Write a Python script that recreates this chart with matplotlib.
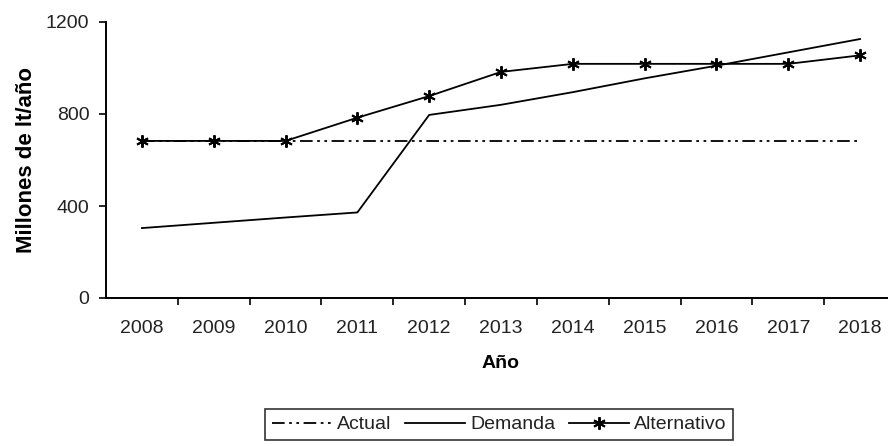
import matplotlib.pyplot as plt

plt.rcParams['font.family'] = ['Liberation Sans', 'DejaVu Sans']

years = ['2008', '2009', '2010', '2011', '2012', '2013', '2014', '2015', '2016', '2017', '2018']
actual = [683, 683, 683, 683, 683, 683, 683, 683, 683, 683, 683]
demanda = [304, 327, 350, 372, 796, 840, 895, 955, 1010, 1068, 1126]
alternativo = [683, 683, 683, 784, 878, 983, 1018, 1018, 1018, 1018, 1055]

fig = plt.figure(figsize=(8.88, 4.46), dpi=100)
ax = fig.add_axes([106 / 888, 1 - 298 / 446, 790 / 888, 276 / 446])

x = range(len(years))
ax.plot(x, actual, color='black', lw=1.3, linestyle=(0, (7, 2.5, 1.5, 2.5, 1.5, 2.5)), label='Actual')
ax.plot(x, demanda, color='black', lw=1.3, label='Demanda')
ax.plot(x, alternativo, color='black', lw=1.3, marker=(6, 2, 0), markersize=9,
        markeredgewidth=1.4, label='Alternativo')

ax.set_xlim(-0.5, len(years) - 0.5)
ax.set_ylim(0, 1200)
ax.set_yticks([0, 400, 800, 1200])
ax.set_xticks([i + 0.5 for i in range(len(years) - 1)])
ax.set_xticklabels([])
ax.set_xticks(list(x), minor=True)
ax.set_xticklabels(years, minor=True)
ax.tick_params(axis='x', which='major', direction='out', length=5, width=1.2)
ax.tick_params(axis='x', which='minor', length=0, pad=16, labelsize=14, labelcolor='#222222')
ax.tick_params(axis='y', direction='out', length=5, width=1.2, pad=7, labelsize=14,
               labelcolor='#222222')

for s in ['top', 'right']:
    ax.spines[s].set_visible(False)
for s in ['left', 'bottom']:
    ax.spines[s].set_linewidth(1.4)

ax.set_xlabel('Año', fontsize=14, fontweight='bold', labelpad=13)
ax.set_ylabel('Millones de lt/año', fontsize=16, fontweight='bold', labelpad=6)

leg = fig.legend(loc='upper center', bbox_to_anchor=(499 / 888, 1 - 409 / 446), ncol=3, fontsize=14,
                 frameon=True, fancybox=False, edgecolor='black', handlelength=3.1,
                 handletextpad=0.25, columnspacing=0.7, borderpad=0.35, borderaxespad=0)
leg.get_frame().set_linewidth(1.2)
for t in leg.get_texts():
    t.set_color('#222222')

fig.savefig('out.png', dpi=100)
